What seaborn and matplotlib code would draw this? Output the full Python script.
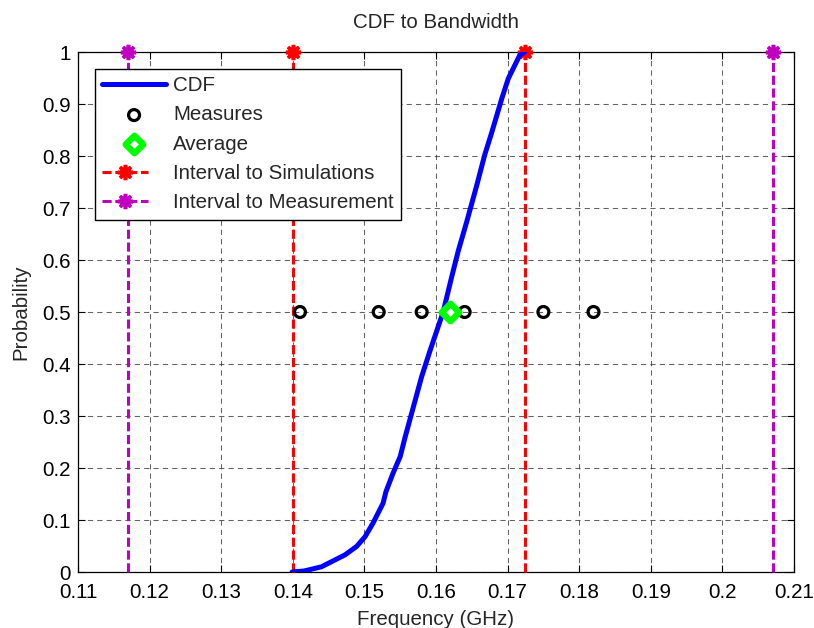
import numpy as np
import pandas as pd
import matplotlib
matplotlib.use("Agg")
import matplotlib.pyplot as plt
import seaborn as sns
from matplotlib.legend_handler import HandlerLine2D

# ---- data ----
cdf_freq = [0.1399, 0.1416, 0.1440, 0.1473, 0.1489, 0.1501, 0.1512, 0.1526, 0.1530,
            0.1540, 0.1550, 0.1557, 0.1580, 0.1592, 0.1610, 0.1622, 0.1631, 0.1643,
            0.1657, 0.1668, 0.1678, 0.1692, 0.1701, 0.1717, 0.1724]
cdf_prob = [0.000, 0.002, 0.010, 0.033, 0.049, 0.068, 0.094, 0.132, 0.154,
            0.190, 0.222, 0.260, 0.376, 0.427, 0.500, 0.568, 0.617, 0.674,
            0.744, 0.802, 0.846, 0.911, 0.949, 0.994, 1.000]
measures_freq = [0.141, 0.152, 0.158, 0.164, 0.175, 0.182]
measures_prob = [0.5, 0.5, 0.5, 0.5, 0.5, 0.5]
average_freq = [0.1620]
average_prob = [0.5]
sim_interval = [0.1400, 0.1724]
meas_interval = [0.1170, 0.2071]
interval_prob = [0, 1]
xticks = [0.11, 0.12, 0.13, 0.14, 0.15, 0.16, 0.17, 0.18, 0.19, 0.20, 0.21]
xticklabels = ["0.11", "0.12", "0.13", "0.14", "0.15", "0.16", "0.17", "0.18", "0.19", "0.2", "0.21"]
yticks = [0, 0.1, 0.2, 0.3, 0.4, 0.5, 0.6, 0.7, 0.8, 0.9, 1.0]
yticklabels = ["0", "0.1", "0.2", "0.3", "0.4", "0.5", "0.6", "0.7", "0.8", "0.9", "1"]

sns.set_style("white")
plt.rcParams['font.family'] = ['Liberation Sans', 'DejaVu Sans']
FS = 14.8

fig = plt.figure(figsize=(8.14, 6.28), dpi=100)
ax = fig.add_axes([78 / 814, 56 / 628, 716 / 814, 520 / 628])

RED = '#ff0000'
MAG = '#bf00bf'

def draw_interval(xs, color, label):
    handles = []
    for i, xv in enumerate(xs):
        df = pd.DataFrame({"x": [xv, xv], "y": interval_prob})
        sns.lineplot(data=df, x="x", y="y", estimator=None, sort=False, ax=ax,
                     color=color, lw=2.2, dashes=False, linestyle=(0, (3, 1.2)),
                     marker=(8, 2, 0), markersize=11, markeredgewidth=2.6,
                     markeredgecolor=color, markerfacecolor=color, markevery=[1],
                     label=label if i == 0 else None, zorder=3, clip_on=False)
        handles.append(ax.lines[-1])
    return handles[0]

h_meas_int = draw_interval(meas_interval, MAG, "Interval to Measurement")
h_sim_int = draw_interval(sim_interval, RED, "Interval to Simulations")

df_cdf = pd.DataFrame({"freq": cdf_freq, "prob": cdf_prob})
sns.lineplot(data=df_cdf, x="freq", y="prob", estimator=None, sort=False, ax=ax,
             color='#0000ff', lw=3.6, label="CDF", zorder=4)
h_cdf = ax.lines[-1]

df_m = pd.DataFrame({"freq": measures_freq, "prob": measures_prob})
h_measures = sns.scatterplot(data=df_m, x="freq", y="prob", ax=ax, marker='o', s=62,
                             facecolors='none', edgecolor='black', linewidth=2.3,
                             label="Measures", zorder=5).collections[-1]

df_a = pd.DataFrame({"freq": average_freq, "prob": average_prob})
h_avg = sns.scatterplot(data=df_a, x="freq", y="prob", ax=ax, marker='D', s=80,
                        facecolors='white', edgecolor='#00ff00', linewidth=4.6,
                        label="Average", zorder=6).collections[-1]

ax.set_xlim(0.11, 0.21)
ax.set_ylim(0, 1)
ax.set_xticks(xticks)
ax.set_xticklabels(xticklabels, fontsize=FS)
ax.set_yticks(yticks)
ax.set_yticklabels(yticklabels, fontsize=FS)
ax.tick_params(direction='in', length=5, width=0.8, top=True, right=True,
               bottom=True, left=True, colors='black')
ax.tick_params(axis='x', pad=8)
ax.tick_params(axis='y', pad=5)
ax.grid(True, color='#3c3c3c', linestyle=(0, (5, 4)), lw=0.75, alpha=0.8)
for s in ax.spines.values():
    s.set_color('black')
    s.set_linewidth(0.9)
    s.set_visible(True)

ax.set_title("CDF to Bandwidth", fontsize=FS, pad=17)
ax.set_xlabel("Frequency (GHz)", fontsize=FS, labelpad=6)
ax.set_ylabel("Probability", fontsize=FS, labelpad=9)


class RightMarkerHandler(HandlerLine2D):
    def get_xdata(self, legend, xdescent, ydescent, width, height, fontsize):
        xend = -xdescent + width * 0.72
        return np.array([-xdescent, xend]), np.array([xend])


leg = ax.legend(handles=[h_cdf, h_measures, h_avg, h_sim_int, h_meas_int],
                labels=["CDF", "Measures", "Average", "Interval to Simulations",
                        "Interval to Measurement"],
                handler_map={h_sim_int: RightMarkerHandler(),
                             h_meas_int: RightMarkerHandler()},
                loc='upper left', bbox_to_anchor=(17 / 716, (572 - 69) / 520),
                borderaxespad=0, fontsize=FS, frameon=True, fancybox=False,
                handlelength=3.1, handletextpad=0.35, labelspacing=0.5,
                borderpad=0.35, scatterpoints=1)
leg.get_frame().set_edgecolor('black')
leg.get_frame().set_linewidth(1.0)
leg.get_frame().set_alpha(1)
leg.set_zorder(10)

fig.savefig("out.png", dpi=100)
